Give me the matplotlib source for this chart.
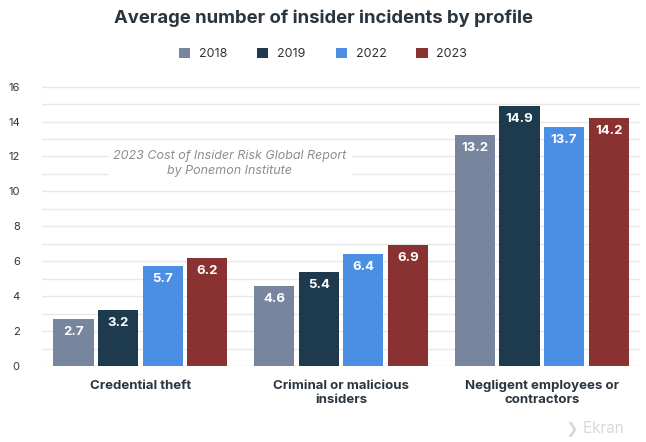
import matplotlib.pyplot as plt
import numpy as np

categories = ['Credential theft', 'Criminal or malicious\ninsiders', 'Negligent employees or\ncontractors']
years = ['2018', '2019', '2022', '2023']
v2018 = [2.7, 4.6, 13.2]
v2019 = [3.2, 5.4, 14.9]
v2022 = [5.7, 6.4, 13.7]
v2023 = [6.2, 6.9, 14.2]
colors = ['#77869e', '#1d3a4e', '#4a8fe3', '#8a3232']

plt.rcParams['font.family'] = ['Inter', 'DejaVu Sans']

fig = plt.figure(figsize=(6.46, 4.42), dpi=100)
ax = fig.add_axes([0.065, 0.172, 0.926, 0.636])

x = np.arange(len(categories))
w = 0.2
step = 0.222
for i, (vals, c) in enumerate(zip([v2018, v2019, v2022, v2023], colors)):
    pos = x + (i - 1.5) * step
    ax.bar(pos, vals, width=w, color=c, label=years[i], zorder=3)
    for p, v in zip(pos, vals):
        ax.text(p, v - 0.4, f'{v:.1f}', ha='center', va='top', color='white',
                fontsize=9.5, fontweight='bold', zorder=4)

ax.set_xlim(-0.49, 2.49)
ax.set_ylim(0, 16.1)
ax.set_yticks(range(0, 17, 2))
ax.set_yticks(range(0, 17), minor=True)
ax.grid(axis='y', which='both', color='#e6e8eb', linewidth=1, zorder=0)
ax.tick_params(axis='y', which='both', length=0, labelsize=8, labelcolor='#333333', pad=16)
ax.tick_params(axis='x', length=0, pad=10)
ax.set_xticks(x)
ax.set_xticklabels(categories, fontsize=9.5, fontweight='bold', color='#2a3540')
for s in ax.spines.values():
    s.set_visible(False)

ax.text(0.445, 11.6, '2023 Cost of Insider Risk Global Report\nby Ponemon Institute',
        ha='center', va='center', fontsize=9, style='italic', color='#8a8f96',
        linespacing=1.3, bbox=dict(facecolor='white', edgecolor='none', pad=4), zorder=5)

fig.text(0.5, 0.958, 'Average number of insider incidents by profile', ha='center', va='center',
         fontsize=13.3, fontweight='bold', color='#2a3540')
fig.legend(loc='center', bbox_to_anchor=(0.5, 0.878), ncol=4, frameon=False,
           handlelength=0.9, handleheight=0.9, columnspacing=2.4, handletextpad=0.7,
           fontsize=9, labelcolor='#333333')
fig.text(0.965, 0.03, '❯ Ekran', ha='right', va='center', fontsize=11, color='#d5d8dc')

fig.savefig('out.png', dpi=100, facecolor='white')
